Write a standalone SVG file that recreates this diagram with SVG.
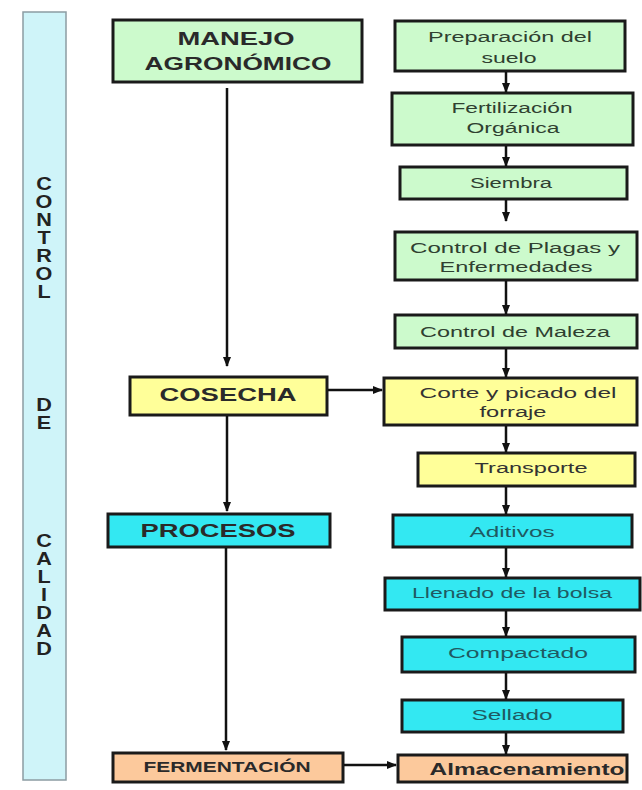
<svg xmlns="http://www.w3.org/2000/svg" width="642" height="790" viewBox="0 0 642 790">
<style>
.box{stroke:#1a1a1a;stroke-width:3}
.g{fill:#ccfacc}
.y{fill:#ffff99}
.c{fill:#33e8f2}
.p{fill:#fcc99c}
.h{font-family:"Liberation Sans",Arial,sans-serif;font-weight:bold;fill:#2a2a2a;text-anchor:middle}
.t{font-family:"Liberation Sans",Arial,sans-serif;font-size:14.5px;text-anchor:middle}
.tg{fill:#2f4030}
.ty{fill:#333}
.tc{fill:#1f5a62}
.v{font-family:"Liberation Sans",Arial,sans-serif;font-weight:bold;font-size:18px;fill:#222;text-anchor:middle}
.conn line{stroke:#111;stroke-width:2.5}
</style>
<defs>
<marker id="ah" markerUnits="userSpaceOnUse" markerWidth="10" markerHeight="10" viewBox="0 0 10 10" refX="9" refY="5" orient="auto">
<path d="M0,1 L10,5 L0,9 Z" fill="#111"/>
</marker>
</defs>
<rect width="642" height="790" fill="#fff"/>

<g id="control-calidad">
<rect x="23" y="12" width="43" height="768" fill="#cff4f9" stroke="#8c9ca2" stroke-width="1.5"/>
<g transform="translate(44,0) scale(1.2,1)">
<text class="v" x="0" y="190">C</text>
<text class="v" x="0" y="208">O</text>
<text class="v" x="0" y="226">N</text>
<text class="v" x="0" y="244">T</text>
<text class="v" x="0" y="262">R</text>
<text class="v" x="0" y="280">O</text>
<text class="v" x="0" y="298">L</text>
<text class="v" x="0" y="411">D</text>
<text class="v" x="0" y="429">E</text>
<text class="v" x="0" y="547">C</text>
<text class="v" x="0" y="565">A</text>
<text class="v" x="0" y="583">L</text>
<text class="v" x="0" y="601">I</text>
<text class="v" x="0" y="619">D</text>
<text class="v" x="0" y="637">A</text>
<text class="v" x="0" y="655">D</text>
</g>
</g>

<g id="manejo">
<rect class="box g" x="113" y="20" width="249" height="62"/>
<text class="h" transform="translate(236,0) scale(1.35,1)" x="0" y="45" font-size="19" textLength="86.7" lengthAdjust="spacingAndGlyphs">MANEJO</text>
<text class="h" transform="translate(238,0) scale(1.35,1)" x="0" y="70" font-size="19" textLength="138.5" lengthAdjust="spacingAndGlyphs">AGRONÓMICO</text>
</g>
<g id="cosecha">
<rect class="box y" x="130" y="377" width="197" height="38"/>
<text class="h" transform="translate(228,0) scale(1.35,1)" x="0" y="401" font-size="19" textLength="101.5" lengthAdjust="spacingAndGlyphs">COSECHA</text>
</g>
<g id="procesos">
<rect class="box c" x="108" y="514" width="222" height="33"/>
<text class="h" transform="translate(218,0) scale(1.35,1)" x="0" y="537" font-size="18" textLength="114.8" lengthAdjust="spacingAndGlyphs">PROCESOS</text>
</g>
<g id="fermentacion">
<rect class="box p" x="113" y="753" width="230" height="29"/>
<text class="h" transform="translate(227,0) scale(1.3,1)" x="0" y="772" font-size="14" textLength="128.5" lengthAdjust="spacingAndGlyphs">FERMENTACIÓN</text>
</g>

<g id="preparacion">
<rect class="box g" x="395" y="21" width="230" height="50"/>
<text class="t tg" transform="translate(510,0) scale(1.5,1)" x="0" y="42" textLength="109.3" lengthAdjust="spacingAndGlyphs">Preparación del</text>
<text class="t tg" transform="translate(509,0) scale(1.5,1)" x="0" y="63" textLength="36.7" lengthAdjust="spacingAndGlyphs">suelo</text>
</g>
<g id="fertilizacion">
<rect class="box g" x="392" y="93" width="241" height="52"/>
<text class="t tg" transform="translate(512,0) scale(1.5,1)" x="0" y="113" textLength="80.7" lengthAdjust="spacingAndGlyphs">Fertilización</text>
<text class="t tg" transform="translate(513,0) scale(1.5,1)" x="0" y="133" textLength="62" lengthAdjust="spacingAndGlyphs">Orgánica</text>
</g>
<g id="siembra">
<rect class="box g" x="400" y="167" width="227" height="32"/>
<text class="t tg" transform="translate(511,0) scale(1.5,1)" x="0" y="188" textLength="54.7" lengthAdjust="spacingAndGlyphs">Siembra</text>
</g>
<g id="plagas">
<rect class="box g" x="395" y="232" width="242" height="48"/>
<text class="t tg" transform="translate(515,0) scale(1.5,1)" x="0" y="253" textLength="140" lengthAdjust="spacingAndGlyphs">Control de Plagas y</text>
<text class="t tg" transform="translate(516,0) scale(1.5,1)" x="0" y="272" textLength="102" lengthAdjust="spacingAndGlyphs">Enfermedades</text>
</g>
<g id="maleza">
<rect class="box g" x="395" y="315" width="242" height="33"/>
<text class="t tg" transform="translate(515,0) scale(1.5,1)" x="0" y="337" textLength="126.7" lengthAdjust="spacingAndGlyphs">Control de Maleza</text>
</g>
<g id="corte">
<rect class="box y" x="384" y="378" width="253" height="47"/>
<text class="t ty" transform="translate(518,0) scale(1.5,1)" x="0" y="398" textLength="131.3" lengthAdjust="spacingAndGlyphs">Corte y picado del</text>
<text class="t ty" transform="translate(513,0) scale(1.5,1)" x="0" y="417" textLength="44.7" lengthAdjust="spacingAndGlyphs">forraje</text>
</g>
<g id="transporte">
<rect class="box y" x="418" y="453" width="217" height="33"/>
<text class="t ty" transform="translate(531,0) scale(1.5,1)" x="0" y="473" textLength="75.3" lengthAdjust="spacingAndGlyphs">Transporte</text>
</g>
<g id="aditivos">
<rect class="box c" x="393" y="515" width="239" height="32"/>
<text class="t tc" transform="translate(512,0) scale(1.5,1)" x="0" y="537" textLength="56.7" lengthAdjust="spacingAndGlyphs">Aditivos</text>
</g>
<g id="llenado">
<rect class="box c" x="385" y="578" width="255" height="32"/>
<text class="t tc" transform="translate(512,0) scale(1.5,1)" x="0" y="598" textLength="133.3" lengthAdjust="spacingAndGlyphs">Llenado de la bolsa</text>
</g>
<g id="compactado">
<rect class="box c" x="402" y="637" width="233" height="35"/>
<text class="t tc" transform="translate(518,0) scale(1.5,1)" x="0" y="658" textLength="93.3" lengthAdjust="spacingAndGlyphs">Compactado</text>
</g>
<g id="sellado">
<rect class="box c" x="402" y="700" width="221" height="32"/>
<text class="t tc" transform="translate(512,0) scale(1.5,1)" x="0" y="720" textLength="54" lengthAdjust="spacingAndGlyphs">Sellado</text>
</g>
<g id="almacenamiento">
<rect class="box p" x="398" y="755" width="229" height="27"/>
<text class="h" transform="translate(527,0) scale(1.35,1)" x="0" y="775" font-size="16" textLength="144.4" lengthAdjust="spacingAndGlyphs">Almacenamiento</text>
</g>

<g id="connectors" class="conn">
<line x1="227" y1="88" x2="227" y2="366" marker-end="url(#ah)"/>
<line x1="227" y1="416" x2="227" y2="511" marker-end="url(#ah)"/>
<line x1="226" y1="548" x2="226" y2="750" marker-end="url(#ah)"/>
<line x1="328" y1="390" x2="382" y2="390" marker-end="url(#ah)"/>
<line x1="344" y1="765" x2="396" y2="765" marker-end="url(#ah)"/>
<line x1="506" y1="72" x2="506" y2="92" marker-end="url(#ah)"/>
<line x1="506" y1="146" x2="506" y2="166" marker-end="url(#ah)"/>
<line x1="506" y1="200" x2="506" y2="221" marker-end="url(#ah)"/>
<line x1="506" y1="281" x2="506" y2="314" marker-end="url(#ah)"/>
<line x1="506" y1="349" x2="506" y2="377" marker-end="url(#ah)"/>
<line x1="506" y1="426" x2="506" y2="452" marker-end="url(#ah)"/>
<line x1="506" y1="487" x2="506" y2="514" marker-end="url(#ah)"/>
<line x1="506" y1="548" x2="506" y2="577" marker-end="url(#ah)"/>
<line x1="506" y1="611" x2="506" y2="636" marker-end="url(#ah)"/>
<line x1="506" y1="673" x2="506" y2="699" marker-end="url(#ah)"/>
<line x1="506" y1="733" x2="506" y2="754" marker-end="url(#ah)"/>
</g>
</svg>
